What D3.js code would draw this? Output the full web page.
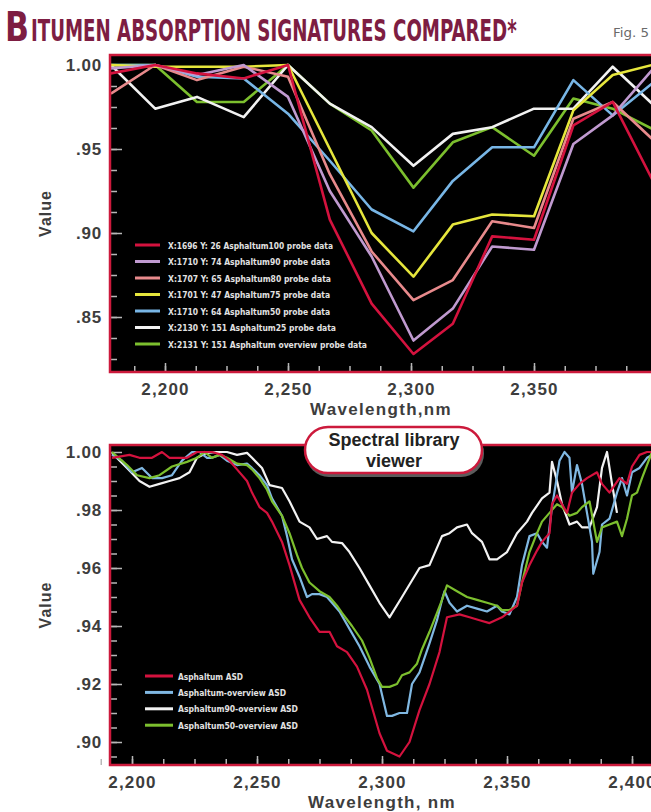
<!DOCTYPE html>
<html><head><meta charset="utf-8">
<script src="https://cdn.jsdelivr.net/npm/d3@7/dist/d3.min.js"></script>
<style>
html,body{margin:0;padding:0;background:#fff;overflow:hidden}
svg{display:block}
</style></head><body>
<svg id="c" width="651" height="812"></svg>
<script>
// ---------- DATA: top panel (probe data) ----------
const topWavelengths = [2178, 2196, 2213, 2232, 2250, 2267, 2284, 2301, 2317, 2333, 2350, 2366, 2382, 2398];
const probeAsphaltum100 = [0.995, 1.000, 0.995, 0.992, 1.000, 0.908, 0.858, 0.828, 0.846, 0.898, 0.896, 0.964, 0.978, 0.932];
const probeAsphaltum90  = [0.998, 1.000, 0.994, 1.000, 0.981, 0.925, 0.886, 0.836, 0.855, 0.892, 0.890, 0.953, 0.970, 0.997];
const probeAsphaltum80  = [0.983, 1.000, 0.991, 0.999, 0.993, 0.935, 0.889, 0.860, 0.872, 0.907, 0.903, 0.968, 0.978, 0.956];
const probeAsphaltum75  = [1.000, 0.999, 0.999, 0.999, 1.000, 0.950, 0.900, 0.874, 0.905, 0.911, 0.910, 0.973, 0.994, 1.000];
const probeAsphaltum50  = [1.000, 1.000, 0.993, 0.992, 0.971, 0.943, 0.914, 0.901, 0.931, 0.951, 0.951, 0.991, 0.970, 0.989];
const probeAsphaltum25  = [1.000, 0.974, 0.981, 0.969, 1.000, 0.977, 0.963, 0.940, 0.959, 0.963, 0.974, 0.974, 0.999, 0.977];
const probeOverview     = [1.000, 1.000, 0.978, 0.978, 1.000, 0.977, 0.961, 0.927, 0.954, 0.963, 0.946, 0.980, 0.974, 0.962];
const topLegendLabels = [
  "X:1696 Y: 26 Asphaltum100 probe data",
  "X:1710 Y: 74 Asphaltum90 probe data",
  "X:1707 Y: 65 Asphaltum80 probe data",
  "X:1701 Y: 47 Asphaltum75 probe data",
  "X:1710 Y: 64 Asphaltum50 probe data",
  "X:2130 Y: 151 Asphaltum25 probe data",
  "X:2131 Y: 151 Asphaltum overview probe data"
];
const topColors = ["#d4123e", "#c09ad0", "#e88a8c", "#e6e63c", "#78b6e6", "#f2f2f2", "#7cbf2e"];
const topYTicks = [1.00, 0.95, 0.90, 0.85];
const topXTicks = [2200, 2250, 2300, 2350];

// ---------- DATA: bottom panel (spectral library) ----------
const libAsphaltumASD = [[2192,0.998],[2199,0.999],[2203,0.998],[2208,0.998],[2212,1.000],[2215,0.998],[2218,0.998],[2222,0.998],[2226,1.000],[2230,1.000],[2232,1.000],[2236,0.999],[2239,0.997],[2242,0.994],[2246,0.990],[2248,0.986],[2251,0.981],[2254,0.979],[2256,0.976],[2260,0.969],[2263,0.961],[2267,0.949],[2271,0.943],[2275,0.938],[2279,0.938],[2282,0.933],[2286,0.931],[2290,0.926],[2294,0.918],[2296,0.912],[2299,0.903],[2302,0.897],[2307,0.895],[2311,0.900],[2315,0.911],[2319,0.920],[2323,0.931],[2326,0.943],[2331,0.944],[2335,0.943],[2339,0.942],[2343,0.941],[2348,0.943],[2351,0.945],[2354,0.947],[2356,0.955],[2359,0.961],[2362,0.966],[2364,0.969],[2367,0.972],[2368,0.982],[2370,0.985],[2374,0.979],[2376,0.986],[2379,0.989],[2382,0.991],[2386,0.993],[2388,0.989],[2391,0.986],[2395,0.991],[2398,0.989],[2400,0.995],[2403,0.999],[2406,1.000],[2408,1.000]];
const libOverviewASD = [[2192,0.999],[2196,0.997],[2200,0.993],[2204,0.9945],[2208,0.991],[2212,0.991],[2216,0.992],[2220,0.997],[2224,1.000],[2227,1.000],[2230,0.998],[2232,0.998],[2235,0.999],[2238,0.997],[2242,0.9955],[2246,0.996],[2248,0.9945],[2251,0.992],[2254,0.9886],[2256,0.984],[2260,0.978],[2262,0.971],[2264,0.963],[2267,0.957],[2270,0.950],[2272,0.951],[2275,0.951],[2278,0.950],[2280,0.948],[2283,0.945],[2287,0.939],[2291,0.933],[2295,0.926],[2299,0.920],[2302,0.909],[2304,0.909],[2307,0.910],[2310,0.910],[2312,0.920],[2315,0.924],[2319,0.934],[2322,0.942],[2324,0.949],[2325,0.952],[2327,0.948],[2330,0.945],[2334,0.947],[2338,0.946],[2342,0.945],[2346,0.947],[2348,0.945],[2351,0.944],[2354,0.950],[2356,0.961],[2359,0.971],[2362,0.972],[2364,0.969],[2366,0.967],[2368,0.981],[2371,0.997],[2373,1.000],[2375,0.998],[2376,0.986],[2378,0.9955],[2380,0.989],[2382,0.979],[2384,0.969],[2384.5,0.958],[2387,0.9655],[2388,0.975],[2391,0.977],[2394,0.986],[2396,0.991],[2398,0.985],[2400,0.993],[2403,0.9945],[2406,0.998],[2408,0.999]];
const libAsphaltum90ASD = [[2192,0.9997],[2198,0.9945],[2203,0.990],[2207,0.988],[2211,0.989],[2215,0.990],[2219,0.991],[2223,0.993],[2226,0.998],[2230,0.9997],[2234,1.000],[2238,1.000],[2242,0.999],[2246,0.9997],[2248,0.998],[2252,0.9945],[2255,0.9886],[2260,0.9876],[2263,0.983],[2267,0.976],[2271,0.974],[2274,0.970],[2278,0.971],[2280,0.969],[2284,0.9686],[2287,0.9655],[2291,0.960],[2295,0.954],[2299,0.948],[2303,0.943],[2308,0.950],[2315,0.960],[2319,0.961],[2324,0.971],[2327,0.972],[2330,0.974],[2334,0.975],[2336,0.972],[2340,0.969],[2343,0.963],[2346,0.963],[2350,0.9655],[2354,0.972],[2358,0.976],[2360,0.979],[2364,0.984],[2367,0.986],[2368,0.9966],[2370,0.990],[2372,0.982],[2375,0.975],[2378,0.976],[2380,0.974],[2383,0.974],[2386,0.981],[2388,0.9945],[2390,1.000],[2392,0.989],[2394,0.979]];
const libAsphaltum50ASD = [[2192,1.000],[2198,0.9955],[2202,0.992],[2207,0.991],[2211,0.992],[2216,0.995],[2222,0.9966],[2226,0.998],[2229,1.000],[2232,0.998],[2235,0.999],[2238,0.998],[2242,0.996],[2246,0.9955],[2248,0.994],[2251,0.991],[2254,0.987],[2256,0.983],[2260,0.978],[2263,0.972],[2266,0.9645],[2268,0.960],[2271,0.955],[2275,0.952],[2279,0.950],[2282,0.947],[2284,0.9445],[2288,0.940],[2292,0.935],[2295,0.929],[2298,0.922],[2300,0.919],[2303,0.919],[2306,0.920],[2308,0.923],[2311,0.924],[2314,0.927],[2316,0.932],[2319,0.938],[2322,0.9445],[2324,0.949],[2326,0.954],[2330,0.952],[2334,0.950],[2338,0.949],[2342,0.948],[2346,0.947],[2348,0.9455],[2351,0.9455],[2354,0.947],[2356,0.955],[2359,0.9655],[2362,0.972],[2364,0.976],[2367,0.979],[2370,0.982],[2372,0.981],[2375,0.978],[2378,0.979],[2380,0.981],[2383,0.983],[2386,0.969],[2388,0.974],[2391,0.975],[2394,0.976],[2396,0.971],[2398,0.977],[2400,0.985],[2402,0.986],[2404,0.991],[2408,1.000]];
const lowLegendLabels = ["Asphaltum ASD", "Asphaltum-overview ASD", "Asphaltum90-overview ASD", "Asphaltum50-overview ASD"];
const lowColors = ["#d4123e", "#80b8e2", "#f2f2f2", "#7cbf2e"];
const lowYTicks = [1.00, 0.98, 0.96, 0.94, 0.92, 0.90];
const lowXTicks = [2200, 2250, 2300, 2350, 2400];

// ---------- DRAW ----------
const svg = d3.select("#c");
const axisFont = "'Liberation Sans', Arial, Helvetica, sans-serif";
const narrowFont = "'Liberation Sans Narrow', 'Arial Narrow', 'DejaVu Sans Condensed', sans-serif";
const borderColor = "#cc1a3c";
const tickColor = "#b8b8b8";
const labelColor = "#3d3d3d";

// fit a text horizontally to a target width with a scale transform
function fitText(x, y, target, attrs, str) {
  const t = svg.append("text").attr("x", 0).attr("y", 0);
  Object.entries(attrs).forEach(([k, v]) => t.attr(k, v));
  t.text(str);
  const w = t.node().getComputedTextLength() || target;
  t.attr("transform", `translate(${x},${y}) scale(${target / w},1)`);
  return t;
}

// Title
const titleAttrs = { "font-family": narrowFont, "font-weight": "bold", "fill": "#7d1d42" };
fitText(5, 41, 24, Object.assign({ "font-size": 41 }, titleAttrs), "B");
fitText(31, 41, 486, Object.assign({ "font-size": 30 }, titleAttrs), "ITUMEN ABSORPTION SIGNATURES COMPARED*");
fitText(613, 37, 36, { "font-family": narrowFont, "font-size": 13, "fill": "#6a6a6a" }, "Fig. 5");

function panel(cfg) {
  const g = svg.append("g");
  const x = d3.scaleLinear().domain(cfg.xDom).range(cfg.xRange);
  const y = d3.scaleLinear().domain(cfg.yDom).range(cfg.yRange);
  const L = cfg.left, T = cfg.top, R = cfg.right, B = cfg.bottom;
  const clipId = "clip" + cfg.id;
  svg.append("clipPath").attr("id", clipId).append("rect")
    .attr("x", L).attr("y", T).attr("width", R - L).attr("height", B - T);
  g.append("rect").attr("x", L).attr("y", T).attr("width", R - L).attr("height", B - T).attr("fill", "#000");

  const yMinor = d3.axisLeft(y).tickValues(cfg.yMinor).tickSizeInner(-7).tickSizeOuter(0).tickFormat("");
  g.append("g").attr("transform", `translate(${L},0)`).call(yMinor)
    .call(s => s.select(".domain").remove())
    .call(s => s.selectAll("line").attr("stroke", tickColor).attr("stroke-width", 1.5));
  const fmt = d => d === 1 ? "1.00" : d3.format(".2f")(d).slice(1);
  const yMajor = d3.axisLeft(y).tickValues(cfg.yTicks).tickSizeInner(-12).tickSizeOuter(0).tickPadding(8).tickFormat(fmt);
  g.append("g").attr("transform", `translate(${L},0)`).call(yMajor)
    .call(s => s.select(".domain").remove())
    .call(s => s.selectAll("line").attr("stroke", tickColor).attr("stroke-width", 1.5))
    .call(s => s.selectAll("text").attr("font-family", axisFont).attr("font-weight", "bold")
      .attr("font-size", 17).attr("fill", labelColor).attr("letter-spacing", 0.8));
  const xMinor = d3.axisBottom(x).tickValues(cfg.xMinor).tickSizeInner(-6).tickSizeOuter(0).tickFormat("");
  g.append("g").attr("transform", `translate(0,${B})`).call(xMinor)
    .call(s => s.select(".domain").remove())
    .call(s => s.selectAll("line").attr("stroke", tickColor).attr("stroke-width", 1.5));
  const xMajor = d3.axisBottom(x).tickValues(cfg.xTicks).tickSizeInner(-9).tickSizeOuter(0).tickPadding(11).tickFormat(d3.format(","));
  g.append("g").attr("transform", `translate(0,${B})`).call(xMajor)
    .call(s => s.select(".domain").remove())
    .call(s => s.selectAll("line").attr("stroke", tickColor).attr("stroke-width", 1.5))
    .call(s => s.selectAll("text").attr("font-family", axisFont).attr("font-weight", "bold")
      .attr("font-size", 17).attr("fill", labelColor).attr("letter-spacing", 1.2));

  g.append("text").attr("transform", `translate(${cfg.vx},${(T + B) / 2}) rotate(-90)`)
    .attr("text-anchor", "middle").attr("font-family", axisFont).attr("font-weight", "bold")
    .attr("font-size", 16).attr("fill", labelColor).attr("letter-spacing", 1).text("Value");
  g.append("text").attr("x", cfg.wx).attr("y", cfg.wy).attr("text-anchor", "middle")
    .attr("font-family", axisFont).attr("font-weight", "bold").attr("font-size", 17)
    .attr("fill", labelColor).attr("letter-spacing", 1.3).text(cfg.wTitle);

  const lg = g.append("g").attr("clip-path", `url(#${clipId})`);
  const line = d3.line().x(d => x(d[0])).y(d => y(d[1]));
  cfg.series.forEach(s => {
    lg.append("path").datum(s.data).attr("d", line).attr("fill", "none")
      .attr("stroke", s.color).attr("stroke-width", cfg.lw).attr("stroke-linejoin", "round");
  });

  const leg = g.append("g");
  const rows = leg.selectAll("g").data(cfg.legend).join("g")
    .attr("transform", (d, i) => `translate(0,${cfg.legY + i * cfg.legStep})`);
  rows.append("line").attr("x1", cfg.legX1).attr("x2", cfg.legX2).attr("y1", 0).attr("y2", 0)
    .attr("stroke", d => d.color).attr("stroke-width", 3);
  rows.append("text").attr("x", cfg.legTX).attr("y", 3.5)
    .attr("font-family", narrowFont).attr("font-weight", "bold").attr("font-size", 9.5)
    .attr("fill", "#e2e2e2").attr("textLength", d => d.w).attr("lengthAdjust", "spacingAndGlyphs")
    .text(d => d.label);

  g.append("rect").attr("x", L).attr("y", T).attr("width", R - L).attr("height", B - T)
    .attr("fill", "none").attr("stroke", borderColor).attr("stroke-width", 2.5);
}

const topYMinor = d3.range(0, 15).map(i => 0.825 + i * 0.0125).filter(v => v <= 1.0001);
const topXMinor = d3.range(0, 18).map(i => 2187.5 + i * 12.5);
const lowYMinor = d3.range(0, 21).map(i => 0.895 + i * 0.005);
const lowXMinor = d3.range(0, 19).map(i => 2187.5 + i * 12.5);

const topSeries = [probeAsphaltum100, probeAsphaltum90, probeAsphaltum80, probeAsphaltum75, probeAsphaltum50, probeAsphaltum25, probeOverview]
  .map((vals, i) => ({ data: vals.map((v, j) => [topWavelengths[j], v]), color: topColors[i] }));
const topWidths = [165, 162, 163, 162, 162, 168, 199];

panel({
  id: "top", xDom: [2200, 2300], xRange: [165, 411], yDom: [0.85, 1.00], yRange: [317, 65],
  left: 110, top: 55, right: 670, bottom: 372,
  yTicks: topYTicks, yMinor: topYMinor, xTicks: topXTicks, xMinor: topXMinor,
  vx: 51, wx: 381, wy: 415, wTitle: "Wavelength,nm", lw: 2.6,
  series: [6, 5, 4, 3, 2, 1, 0].map(i => topSeries[i]),
  legend: topLegendLabels.map((l, i) => ({ label: l, color: topColors[i], w: topWidths[i] })),
  legY: 245, legStep: 16.5, legX1: 135, legX2: 160, legTX: 168
});

const lowData = [libAsphaltumASD, libOverviewASD, libAsphaltum90ASD, libAsphaltum50ASD];
const lowWidths = [65, 108, 120, 120];
panel({
  id: "low", xDom: [2200, 2300], xRange: [132, 382], yDom: [0.90, 1.00], yRange: [742, 452],
  left: 110, top: 445, right: 670, bottom: 765,
  yTicks: lowYTicks, yMinor: lowYMinor, xTicks: lowXTicks, xMinor: lowXMinor,
  vx: 51, wx: 382, wy: 808, wTitle: "Wavelength, nm", lw: 2.2,
  series: [2, 1, 3, 0].map(i => ({ data: lowData[i], color: lowColors[i] })),
  legend: lowLegendLabels.map((l, i) => ({ label: l, color: lowColors[i], w: lowWidths[i] })),
  legY: 676, legStep: 16.4, legX1: 145, legX2: 173, legTX: 178
});

const pill = svg.append("g");
pill.append("rect").attr("x", 306).attr("y", 430).attr("width", 178).attr("height", 47).attr("rx", 23)
  .attr("fill", "#9a9a9a").attr("opacity", 0.6);
pill.append("rect").attr("x", 305).attr("y", 427).attr("width", 177).attr("height", 46).attr("rx", 23)
  .attr("fill", "#fff").attr("stroke", borderColor).attr("stroke-width", 2.5);
pill.append("text").attr("x", 394).attr("y", 446).attr("text-anchor", "middle")
  .attr("font-family", axisFont).attr("font-weight", "bold").attr("font-size", 18).attr("fill", "#222")
  .text("Spectral library");
pill.append("text").attr("x", 394).attr("y", 467).attr("text-anchor", "middle")
  .attr("font-family", axisFont).attr("font-weight", "bold").attr("font-size", 18).attr("fill", "#222")
  .text("viewer");
</script>
</body></html>
